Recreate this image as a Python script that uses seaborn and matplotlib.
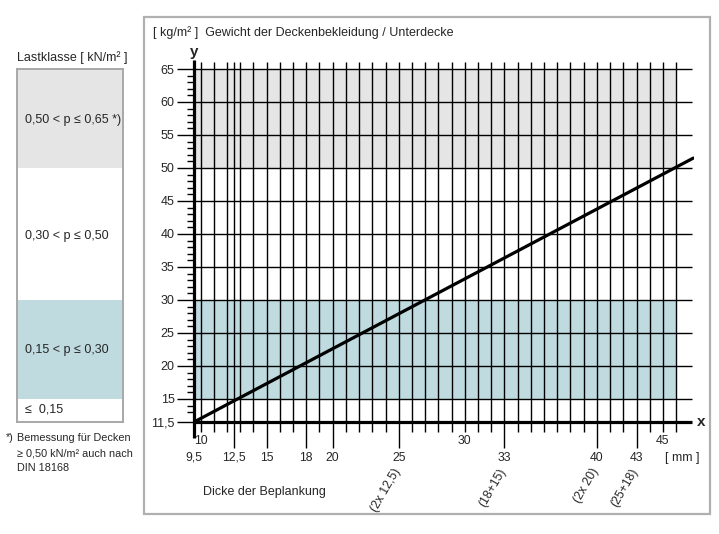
import matplotlib
matplotlib.use("Agg")
import matplotlib.pyplot as plt
from matplotlib.patches import Rectangle
from matplotlib import font_manager
import seaborn as sns

# ---------------- data ----------------
line_x = [9.5, 47.3]            # Dicke der Beplankung [mm]
line_y = [11.5, 51.5]           # Gewicht [kg/m²]

y_major = [11.5, 15, 20, 25, 30, 35, 40, 45, 50, 55, 60, 65]
y_major_labels = ["11,5", "15", "20", "25", "30", "35", "40", "45", "50", "55", "60", "65"]
y_minor = [13, 14] + [v for v in range(16, 65) if v % 5 != 0]

x_grid = [10, 11, 12, 12.5] + list(range(13, 47))
x_long = [12.5, 15, 18, 20, 25, 33, 40, 43]
x_row1 = [10, 30, 45]
x_row1_labels = ["10", "30", "45"]
x_row2 = [9.5, 12.5, 15, 18, 20, 25, 33, 40, 43]
x_row2_labels = ["9,5", "12,5", "15", "18", "20", "25", "33", "40", "43"]
x_rot = [25, 33, 40, 43]
x_rot_labels = ["(2x 12,5)", "(18+15)", "(2x 20)", "(25+18)"]

band_low = [50, 30, 15, 11.5]
band_high = [65, 50, 30, 15]
band_labels = ["0,50 < p \u2264 0,65 *)", "0,30 < p \u2264 0,50", "0,15 < p \u2264 0,30", "\u2264  0,15"]
band_colors = ["#e5e5e5", "#ffffff", "#bfdbe0", "#ffffff"]
shade_x = [9.5, 46]

# ---------------- style ----------------
sns.set_style("white")
avail = {f.name for f in font_manager.fontManager.ttflist}
fams = [f for f in ["Liberation Sans Narrow", "Liberation Sans", "DejaVu Sans"] if f in avail]
plt.rcParams["font.family"] = fams

W, H = 719, 534
fig = plt.figure(figsize=(W / 100, H / 100), dpi=100)

PX_X, PX_Y = 13.21, 6.598
X0_PX, Y0_PX = 194, 422
def ydat(px):
    return 11.5 + (Y0_PX - px) / PX_Y

xlim = (9.5, 47.35)
ylim = (11.5, 66.5)
ax = fig.add_axes([X0_PX / W, (H - Y0_PX) / H,
                   (xlim[1] - xlim[0]) * PX_X / W, (ylim[1] - ylim[0]) * PX_Y / H])
ax.set_xlim(*xlim)
ax.set_ylim(*ylim)
for s in ax.spines.values():
    s.set_visible(False)

# shaded bands
ax.fill_between(shade_x, band_low[0], band_high[0], color=band_colors[0], lw=0, zorder=0)
ax.fill_between(shade_x, band_low[2], band_high[2], color=band_colors[2], lw=0, zorder=0)

# horizontal grid
ax.hlines([v for v in y_major if v != 11.5], 9.5, 47.2, color="black", lw=1.0, zorder=1)
# vertical grid + ticks below axis
short_bot = ydat(432)
long_bot = ydat(448)
top = ydat(62)
for xv in x_grid:
    bot = long_bot if xv in x_long else short_bot
    ax.vlines(xv, bot, top, color="black", lw=1.0, zorder=1, clip_on=False)

# axes lines
ax.plot([9.5, 9.5], [ydat(438), ydat(60)], color="black", lw=2.3, clip_on=False, zorder=3,
        solid_capstyle="butt")
ax.plot([9.5, 47.2], [11.5, 11.5], color="black", lw=2.3, clip_on=False, zorder=3,
        solid_capstyle="butt")

# data line
sns.lineplot(x=line_x, y=line_y, ax=ax, color="black", lw=2.3, zorder=4)

# y ticks
ax.set_yticks(y_major, y_major_labels)
ax.set_yticks(y_minor, minor=True)
ax.tick_params(axis="y", which="major", length=12.5, width=1.0, color="black", pad=1.5,
               labelsize=9, left=True)
ax.tick_params(axis="y", which="minor", length=5, width=1.0, color="black", left=True)
ax.set_xticks([])

fs = 8.8
for xv, lab in zip(x_row1, x_row1_labels):
    ax.text(xv, ydat(441), lab, ha="center", va="center", fontsize=fs, clip_on=False)
for xv, lab in zip(x_row2, x_row2_labels):
    ax.text(xv, ydat(458), lab, ha="center", va="center", fontsize=fs, clip_on=False)
for xv, lab in zip(x_rot, x_rot_labels):
    ax.text(xv + 0.3, ydat(466), lab, ha="right", va="top", rotation=60, fontsize=fs,
            clip_on=False)
ax.text(9.5 + (665 - X0_PX) / PX_X, ydat(458), "[ mm ]", ha="left", va="center",
        fontsize=9, clip_on=False)
ax.text(9.5 + (697 - X0_PX) / PX_X, 11.5, "x", ha="left", va="center", fontsize=11,
        fontweight="bold", clip_on=False)
ax.text(9.5, ydat(52), "y", ha="center", va="center", fontsize=11, fontweight="bold",
        clip_on=False)
ax.text(9.5 + (203 - X0_PX) / PX_X, ydat(492), "Dicke der Beplankung", ha="left",
        va="center", fontsize=9, clip_on=False)

fig.text(153 / W, 1 - 33 / H, "[ kg/m\u00b2 ]  Gewicht der Deckenbekleidung / Unterdecke",
         ha="left", va="center", fontsize=9)

# outer box around the chart
fig.add_artist(Rectangle((144 / W, (H - 514) / H), (710 - 144) / W, (514 - 17) / H,
                         transform=fig.transFigure, fill=False, ec="#b0b0b0", lw=1.6))

# ---------------- left panel: load classes ----------------
axl = fig.add_axes([17 / W, (H - Y0_PX) / H, 106 / W, (Y0_PX - 69) / H])
axl.set_xlim(0, 1)
axl.set_ylim(11.5, 65)
axl.set_xticks([])
axl.set_yticks([])
for s in axl.spines.values():
    s.set_color("#a8a8a8")
    s.set_linewidth(1.4)
for lo, hi, col, lab in zip(band_low, band_high, band_colors, band_labels):
    axl.axhspan(lo, hi, color=col, lw=0, zorder=0)
mids = [ydat(120), ydat(236), ydat(350), ydat(410)]
for m, lab in zip(mids, band_labels):
    axl.text((25 - 17) / 106, m, lab, ha="left", va="center", fontsize=9)

fig.text(17 / W, 1 - 58 / H, "Lastklasse [ kN/m\u00b2 ]", ha="left", va="center", fontsize=9)
fig.text(6 / W, 1 - 438 / H, "*)", ha="left", va="center", fontsize=7.8)
foot = ["Bemessung f\u00fcr Decken", "\u2265 0,50 kN/m\u00b2 auch nach", "DIN 18168"]
for i, t in enumerate(foot):
    fig.text(17 / W, 1 - (438 + 15 * i) / H, t, ha="left", va="center", fontsize=7.8)

fig.savefig("out.png", dpi=100)
